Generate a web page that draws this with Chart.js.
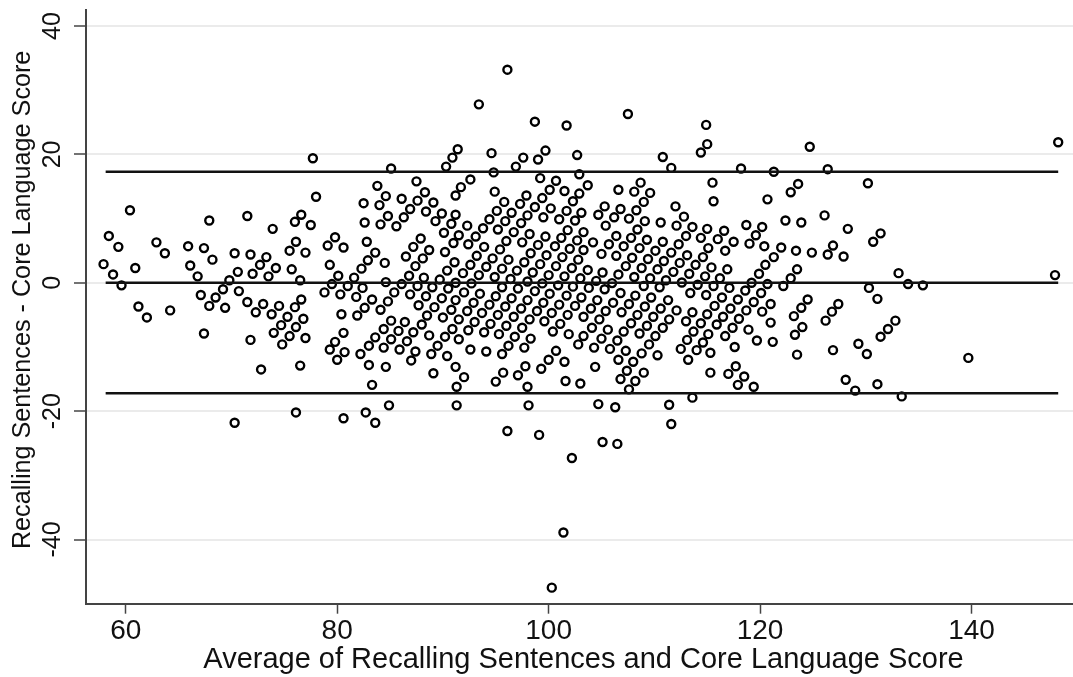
<!DOCTYPE html>
<html>
<head>
<meta charset="utf-8">
<title>Bland-Altman plot</title>
<script src="https://cdn.jsdelivr.net/npm/chart.js@4/dist/chart.umd.min.js"></script>
<style>
    html, body { margin: 0; padding: 0; background: #fff; }
    canvas { display: block; }
</style>
</head>
<body>
<canvas id="baChart" width="1073" height="677"></canvas>
<script>
// Values, one pair of lists per stretch of the x axis
const avgLow = [77.7,78.0,60.4,67.9,71.5,73.9,76.6,76.0,77.5,58.4,59.3,62.9,
    63.7,65.9,67.4,68.2,70.3,71.8,73.3,76.1,75.5,77.0,79.1,79.8,
    57.9,58.8,59.6,60.9,66.1,66.8,70.6,72.0,72.7,74.2,73.5,75.7,
    76.5,79.3,69.8,69.2,70.7,67.1,68.5,67.9,69.4,71.5,73.0,72.3,
    73.8,74.5,75.3,76.0,76.6,76.8,76.1,74.7,74.0,75.5,77.0,74.8,
    61.2,62.0,64.2,67.4,71.8,72.8,76.5,76.1,70.3,78.8,79.5,79.3,79.8,80.0];
const diffLow = [19.4,13.4,11.3,9.7,10.4,8.4,10.6,9.5,9.0,7.3,5.6,6.3,
    4.6,5.7,5.4,3.6,4.6,4.4,4.0,6.4,5.0,4.7,5.8,7.1,
    2.9,1.3,-0.4,2.3,2.7,1.0,1.7,1.4,2.8,2.3,1.0,2.1,
    0.4,2.8,0.4,-1.0,-1.3,-1.9,-2.3,-3.6,-3.9,-3.0,-3.3,-4.6,
    -4.9,-3.6,-5.3,-3.8,-2.6,-5.6,-6.9,-6.6,-7.8,-8.3,-8.6,-9.6,
    -3.7,-5.4,-4.3,-7.9,-8.9,-13.5,-12.9,-20.2,-21.8,-1.5,-0.2,-10.4,-9.2,-12.0];

const avgMidUpper = [80.6,80.1,81.0,81.6,82.3,82.9,83.6,82.8,84.5,84.6,82.4,83.8,
    85.1,84.6,82.5,84.0,86.1,87.5,88.3,87.6,86.9,89.1,88.4,86.3,
    84.8,82.6,84.1,85.6,89.9,89.3,91.2,90.8,90.1,91.5,91.0,90.2,
    87.9,87.2,86.5,88.7,88.1,87.4,86.8,88.2,86.1,87.6,89.0,89.7,
    90.4,91.1,91.2,90.5,90.3,90.9,91.4,91.2,91.7];
const diffMidUpper = [5.5,1.1,-0.5,0.8,2.2,3.5,4.7,6.4,3.1,0.1,-0.8,15.1,
    17.8,13.5,12.4,12.1,13.1,15.8,14.1,12.8,11.5,12.5,11.1,10.2,
    10.4,9.4,9.1,8.8,10.8,9.6,10.6,9.2,7.8,7.4,6.2,4.8,
    6.9,5.6,4.1,5.1,3.8,2.6,1.1,0.8,-0.2,-0.5,-0.7,0.5,
    1.9,3.2,0,-0.9,18.1,19.5,20.8,13.6,14.9];

const avgMidLower = [80.3,81.8,83.3,82.6,84.1,84.8,85.4,86.9,88.4,89.9,91.2,87.7,
    89.2,90.8,88.5,90.0,91.5,80.4,81.9,85.1,86.4,88.0,84.4,85.8,
    87.2,90.9,83.6,85.1,86.6,88.7,90.2,91.5,80.6,83.0,84.4,85.9,
    87.4,80.7,82.2,89.5,88.9,90.4,87.0,83.0,84.6,91.2,89.1,83.3,
    91.3,84.9,91.3,82.7,80.6,83.6];
const diffMidLower = [-1.8,-2.2,-2.6,-3.9,-4.2,-2.9,-1.5,-1.8,-2.1,-2.4,-2.7,-3.5,
    -3.8,-4.2,-5.1,-5.4,-5.7,-4.9,-5.1,-5.9,-6.1,-6.5,-7.2,-7.5,
    -7.7,-7.2,-8.5,-8.8,-9.1,-8.2,-8.4,-8.8,-7.8,-9.8,-10.1,-10.4,
    -10.7,-10.8,-11.1,-9.8,-11.1,-11.4,-12.1,-12.8,-13.1,-13.1,-14.1,-15.9,
    -16.2,-19.1,-19.1,-20.2,-21.1,-21.8];

const avgCentreUpper = [94.6,97.6,96.9,99.0,99.7,102.7,94.8,102.9,99.2,100.7,92.6,94.9,
    101.5,100.1,97.9,99.4,102.9,102.3,95.8,97.3,98.7,95.1,96.5,100.2,
    101.7,103.1,94.4,95.9,98.0,97.4,99.5,101.0,102.5,93.8,92.3,95.2,
    96.7,101.8,103.3,93.1,98.2,96.0,97.5,99.7,101.2,102.7,92.4,93.9,
    95.4,99.0,100.6,102.0,103.3,93.2,94.7,96.2,98.3,99.8,101.3,102.8,
    92.6,94.1,95.6,97.7,99.2,100.7,102.2,91.9,93.4,94.9,97.0,98.5,
    100.0,101.5,103.0,96.4,98.0,92.7,99.4,100.9,95.6,97.1,98.7,102.3];
const diffCentreUpper = [20.2,19.5,18.1,19.2,20.6,19.9,17.2,16.9,16.3,15.9,16.1,14.2,
    14.3,14.5,13.6,13.2,13.9,12.7,12.6,12.3,11.8,11.2,10.9,11.6,
    11.2,10.9,9.9,9.6,10.5,9.3,10.2,9.9,9.7,8.5,8.9,8.3,
    7.9,8.2,7.9,7.2,7.6,6.5,6.3,7.2,7.0,6.6,6.0,5.6,
    5.2,5.9,5.7,5.3,5.1,4.2,3.8,3.6,4.6,4.3,4.0,3.6,
    2.8,2.5,2.2,3.2,2.9,2.6,2.3,1.5,1.2,0.9,1.9,1.6,
    1.2,1.0,0.7,0.6,0.2,-0.1,-0.1,-0.4,-0.7,-0.9,-1.3,-0.6];

const avgCentreLower = [92.0,93.5,95.0,96.5,98.0,100.1,101.7,103.1,92.9,94.4,95.9,97.4,
    99.5,101.0,102.5,92.3,93.7,95.2,96.7,98.9,100.3,101.8,103.3,93.0,
    94.5,96.0,98.2,99.6,101.1,97.5,92.4,93.9,95.3,96.8,100.4,101.9,
    103.3,98.3,96.2,97.7,102.8,92.6,94.1,95.6,100.7,100.0,101.5,99.3,
    97.8,95.7,97.1,92.0,95.0,101.6,103.0,98.0,98.1,96.1,99.1,102.2,
    100.3,101.4];
const diffCentreLower = [-1.5,-1.7,-2.1,-2.4,-2.7,-1.7,-2.0,-2.3,-3.1,-3.4,-3.7,-4.0,
    -3.1,-3.4,-3.6,-4.4,-4.7,-5.0,-5.3,-4.4,-4.7,-5.0,-5.3,-6.1,
    -6.4,-6.7,-5.7,-6.0,-6.4,-7.0,-7.4,-7.7,-8.0,-8.4,-7.6,-8.0,
    -8.3,-8.7,-9.8,-10.1,-9.6,-10.4,-10.7,-11.1,-10.6,-12.0,-12.3,-13.4,
    -13.0,-14.0,-14.4,-14.7,-15.4,-15.3,-15.7,-16.2,-19.1,-23.1,-23.7,-27.3,
    -47.5,-38.9];

const avgHighUpper = [110.8,111.6,114.4,115.0,103.7,106.6,108.7,108.1,109.6,109.0,112.0,105.3,
    106.8,104.7,106.2,108.3,107.6,112.8,109.1,110.6,105.4,112.1,113.6,108.4,
    115.0,106.4,107.8,109.3,113.0,114.4,104.2,105.7,110.8,107.1,108.6,112.3,
    115.1,105.0,106.4,110.1,111.6,113.1,114.6,107.9,109.4,110.9,112.4,113.9,
    107.3,108.8,110.3,103.7,105.1,106.6,108.1,109.6,111.8,113.3,114.8,104.5,
    111.1,112.6,106.0,114.1,109.0,110.5,103.8,105.3,
    93.4,98.7,101.7,107.5,114.9,96.1];
const diffHighUpper = [19.6,17.9,20.3,21.6,15.2,14.5,15.6,14.2,14.0,12.6,11.9,11.9,
    11.5,10.6,10.2,11.3,10.0,10.3,9.6,9.4,8.9,8.9,8.7,8.3,
    8.4,7.3,7.0,6.7,7.3,7.0,6.3,6.0,6.4,5.7,5.4,6.0,
    5.4,4.5,4.2,5.0,4.7,4.3,4.0,3.9,3.7,3.4,3.1,2.8,
    2.6,2.3,2.1,2.0,1.6,1.3,0.9,0.7,1.7,1.4,1.0,0.3,
    0.4,0.05,-0.05,-0.3,-0.5,-0.7,-0.8,-1.0,
    27.8,25.1,24.5,26.3,24.6,33.2];

const avgHighLower = [106.8,113.4,114.9,108.2,109.7,104.6,106.1,107.6,109.1,111.3,110.6,104.0,
    105.4,106.9,108.4,112.1,113.6,115.0,104.8,109.9,111.4,113.0,114.4,107.8,
    109.3,110.8,104.1,105.6,107.1,113.7,115.1,108.6,110.1,105.0,106.5,113.1,
    114.6,109.5,104.3,105.8,107.3,108.8,112.5,114.0,115.3,110.3,106.6,108.0,
    113.2,104.4,107.4,109.0,115.3,106.8,108.2,107.6,113.6,104.7,106.3,111.4,
    111.6,105.1,106.5];
const diffHighLower = [-1.6,-1.6,-1.9,-2.0,-2.3,-2.7,-3.1,-3.3,-3.7,-2.7,-4.0,-4.0,
    -4.4,-4.6,-5.0,-4.3,-4.6,-4.9,-5.7,-5.3,-5.7,-6.0,-6.3,-6.3,
    -6.7,-7.0,-7.0,-7.3,-7.6,-7.6,-8.0,-7.9,-8.3,-8.7,-9.0,-8.9,
    -9.3,-9.6,-10.1,-10.3,-10.6,-11.0,-10.3,-10.5,-10.9,-11.3,-12.0,-12.3,
    -12.0,-13.1,-13.7,-14.0,-14.0,-15.0,-15.3,-16.6,-17.9,-18.9,-19.4,-19.0,
    -22.0,-24.8,-25.1];

const avgTopUpper = [124.7,118.2,121.3,126.4,115.5,123.6,122.9,115.6,120.7,126.1,122.4,123.9,
    118.7,120.2,116.6,119.6,116.0,117.5,119.0,120.4,122.0,123.4,124.9,126.4,
    126.9,116.7,121.3,120.5,115.4,116.9,123.5,119.9,116.2,122.9,119.2,120.7,
    115.6,117.1,118.6,122.2];
const diffTopUpper = [21.2,17.8,17.3,17.7,15.6,15.4,14.1,12.7,13.0,10.5,9.7,9.4,
    9.0,8.7,8.1,7.4,6.8,6.4,6.1,5.7,5.5,5.0,4.7,4.4,
    5.8,5.0,4.0,2.8,2.4,2.1,2.1,1.4,0.7,0.7,0,-0.2,
    -0.5,-0.8,-1.2,-0.5];

const avgTopLower = [116.4,117.9,120.1,119.4,121.0,115.7,117.2,118.7,120.2,124.5,123.9,123.2,
    126.8,126.2,116.5,118.0,121.0,115.9,117.4,118.9,124.0,116.7,123.3,119.7,
    121.2,117.6,126.9,123.5,117.7,117.0,118.5,117.9,119.4];
const diffTopLower = [-2.3,-2.6,-1.6,-3.0,-3.3,-3.6,-4.0,-4.3,-4.5,-2.6,-3.9,-5.2,
    -4.5,-5.9,-5.3,-5.6,-6.2,-6.5,-7.0,-7.3,-6.9,-8.3,-8.1,-9.0,
    -9.2,-10.0,-10.5,-11.2,-13.0,-14.2,-14.6,-15.9,-16.2];

const avgFar = [148.2,130.2,128.3,131.4,130.7,127.9,133.1,147.9,134.0,135.4,130.3,131.1,
    127.4,132.8,132.1,131.4,129.3,130.1,139.7,128.1,131.1,129.0,133.4];
const diffFar = [21.9,15.5,8.4,7.7,6.4,4.1,1.5,1.2,-0.2,-0.4,-0.8,-2.5,
    -3.3,-5.9,-7.2,-8.4,-9.5,-11.1,-11.7,-15.1,-15.8,-16.8,-17.7];

const averageScores = [].concat(avgLow, avgMidUpper, avgMidLower, avgCentreUpper, avgCentreLower,
    avgHighUpper, avgHighLower, avgTopUpper, avgTopLower, avgFar);
const scoreDifferences = [].concat(diffLow, diffMidUpper, diffMidLower, diffCentreUpper, diffCentreLower,
    diffHighUpper, diffHighLower, diffTopUpper, diffTopLower, diffFar);

// Mean difference and limits of agreement
const lineStart = 58.1;
const lineEnd = 148.2;
const upperLimit = 17.3;
const meanLine = 0;
const lowerLimit = -17.2;

const xTicks = [60, 80, 100, 120, 140];
const yTicks = [-40, -20, 0, 20, 40];

// leading spaces nudge the centred titles to where the original has them
const xLabel = ' Average of Recalling Sentences and Core Language Score';
const yLabel = '  Recalling Sentences - Core Language Score';

function limitLine(value) {
    return {
        type: 'line',
        data: [{ x: lineStart, y: value }, { x: lineEnd, y: value }],
        borderColor: '#111',
        borderWidth: 2.4,
        pointRadius: 0,
        fill: false
    };
}

const axisColor = '#444';
const fontFamily = '"Liberation Sans", Arial, sans-serif';

new Chart(document.getElementById('baChart'), {
    type: 'scatter',
    data: {
        datasets: [
            limitLine(upperLimit),
            limitLine(meanLine),
            limitLine(lowerLimit),
            {
                data: averageScores.map((x, i) => ({ x: x, y: scoreDifferences[i] })),
                pointStyle: 'circle',
                pointRadius: 4,
                borderColor: '#000',
                backgroundColor: 'rgba(0,0,0,0)',
                borderWidth: 2.4
            }
        ]
    },
    options: {
        responsive: false,
        animation: false,
        layout: { autoPadding: false, padding: { top: 10, right: 0, bottom: 0, left: 0 } },
        plugins: { legend: { display: false }, tooltip: { enabled: false } },
        scales: {
            x: {
                type: 'linear',
                min: 56.24,
                max: 149.6,
                afterBuildTicks: axis => { axis.ticks = xTicks.map(v => ({ value: v })); },
                afterFit: axis => {
                    axis.height = 73.3;
                    axis.paddingLeft = 0;
                    axis.paddingRight = 0;
                },
                border: { color: axisColor, width: 2 },
                grid: { drawOnChartArea: false, drawTicks: true, tickLength: 10, tickColor: axisColor, tickWidth: 1.5 },
                ticks: { color: '#111', font: { family: fontFamily, size: 28 }, padding: 1, maxRotation: 0, autoSkip: false },
                title: { display: true, text: xLabel, color: '#111', font: { family: fontFamily, size: 29 }, padding: { top: 5, bottom: 0 } }
            },
            y: {
                type: 'linear',
                min: -50,
                max: 42.5,
                afterBuildTicks: axis => { axis.ticks = yTicks.map(v => ({ value: v })); },
                afterFit: axis => {
                    axis.width = 86;
                    axis.paddingTop = 0;
                    axis.paddingBottom = 0;
                },
                border: { color: axisColor, width: 2 },
                grid: { color: '#ebebeb', lineWidth: 2, drawTicks: true, tickLength: 12, tickColor: axisColor, tickWidth: 1.5 },
                ticks: { color: '#111', font: { family: fontFamily, size: 25 }, padding: 3, minRotation: 90, maxRotation: 90, crossAlign: 'center', autoSkip: false },
                title: { display: true, text: yLabel, color: '#111', font: { family: fontFamily, size: 25.2 }, padding: { top: 8, bottom: 0 } }
            }
        }
    }
});
</script>
</body>
</html>
